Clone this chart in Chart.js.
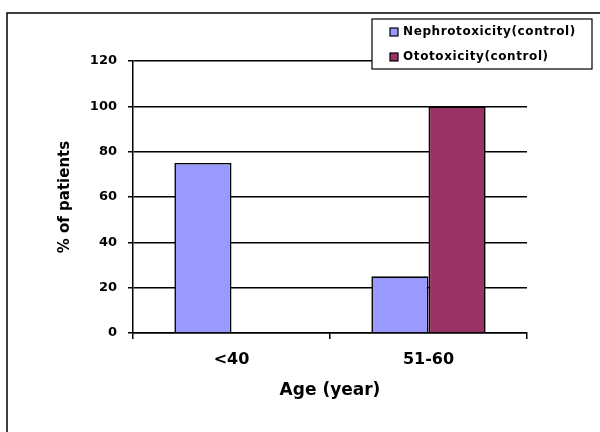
<!DOCTYPE html>
<html>
<head>
<meta charset="utf-8">
<script src="https://cdn.jsdelivr.net/npm/chart.js@4/dist/chart.umd.min.js"></script>
<style>
  html, body { margin: 0; padding: 0; background: #fff; }
  canvas { display: block; }
</style>
</head>
<body>
<canvas id="c" width="600" height="432"></canvas>
<script>
// Age groups on the category axis
const categories = ['<40', '51-60'];
// Percentage of patients per age group
const nephrotoxicity = [75, 25];
const ototoxicity = [0, 100];
const seriesNames = ['Nephrotoxicity(control)', 'Ototoxicity(control)'];
const yTicks = [0, 20, 40, 60, 80, 100, 120];

const FONT = 'DejaVu Sans';

// Outer frame around the whole figure
const framePlugin = {
  id: 'frame',
  beforeDraw(chart) {
    const ctx = chart.ctx;
    ctx.save();
    ctx.fillStyle = '#fff';
    ctx.fillRect(0, 0, chart.width, chart.height);
    ctx.strokeStyle = '#000';
    ctx.lineWidth = 1.5;
    ctx.strokeRect(7, 13, 800, 600);
    ctx.restore();
  }
};

// Boxed legend in the upper right corner
const boxLegend = {
  id: 'boxLegend',
  afterDraw(chart) {
    const ctx = chart.ctx;
    const x0 = 372, y0 = 19, w = 220, h = 50;
    ctx.save();
    ctx.fillStyle = '#fff';
    ctx.fillRect(x0, y0, w, h);
    ctx.strokeStyle = '#000';
    ctx.lineWidth = 1.2;
    ctx.strokeRect(x0, y0, w, h);
    ctx.font = 'bold 12px "' + FONT + '"';
    if ('letterSpacing' in ctx) ctx.letterSpacing = '0.6px';
    ctx.textBaseline = 'middle';
    ctx.textAlign = 'left';
    chart.data.datasets.forEach((ds, i) => {
      const cy = 32 + i * 25;
      ctx.fillStyle = ds.backgroundColor;
      ctx.fillRect(390, cy - 4, 8, 8);
      ctx.lineWidth = 1.2;
      ctx.strokeStyle = '#000';
      ctx.strokeRect(390, cy - 4, 8, 8);
      ctx.fillStyle = '#000';
      ctx.fillText(ds.label, 403, cy);
    });
    ctx.restore();
  }
};

new Chart(document.getElementById('c'), {
  type: 'bar',
  data: {
    labels: categories,
    datasets: [
      {
        label: seriesNames[0],
        data: nephrotoxicity,
        backgroundColor: '#9999FF',
        borderColor: '#000',
        borderWidth: 1.6
      },
      {
        label: seriesNames[1],
        data: ototoxicity,
        backgroundColor: '#993366',
        borderColor: '#000',
        borderWidth: 1.6
      }
    ]
  },
  options: {
    responsive: false,
    animation: false,
    devicePixelRatio: 1,
    layout: { padding: { left: 0, right: 73, top: 61, bottom: 0 } },
    datasets: { bar: { categoryPercentage: 0.58, barPercentage: 1.0 } },
    plugins: {
      legend: { display: false },
      tooltip: { enabled: false }
    },
    scales: {
      x: {
        offset: true,
        grid: { drawOnChartArea: false, drawTicks: true, tickLength: 6, color: '#000', lineWidth: 1.5, offset: true },
        border: { color: '#000', width: 1.5 },
        ticks: { color: '#000', padding: 11, font: { family: FONT, size: 16, weight: 'bold' } },
        title: {
          display: true, text: 'Age (year)', color: '#000',
          font: { family: FONT, size: 17, weight: 'bold' },
          padding: { top: 0, bottom: 31 }
        },
        afterFit(s) { s.height = 99; }
      },
      y: {
        min: yTicks[0],
        max: yTicks[yTicks.length - 1],
        afterBuildTicks(s) { s.ticks = yTicks.map(v => ({ value: v })); },
        grid: { color: '#000', lineWidth: 1.5, tickLength: 5 },
        border: { color: '#000', width: 1.5 },
        ticks: { color: '#000', padding: 11, font: { family: FONT, size: 13, weight: 'bold' } },
        title: {
          display: true, text: '% of patients', color: '#000',
          font: { family: FONT, size: 15, weight: 'bold' },
          padding: { top: 56, bottom: 0 }
        },
        afterFit(s) { s.width = 133; }
      }
    }
  },
  plugins: [framePlugin, boxLegend]
});
</script>
</body>
</html>
